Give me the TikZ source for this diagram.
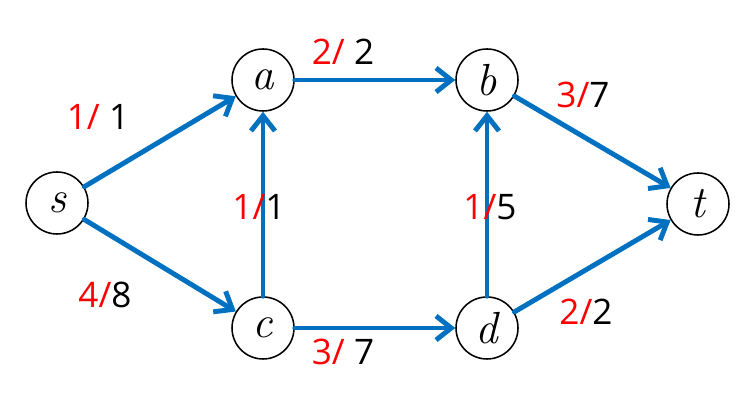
\documentclass[tikz,border=0pt]{standalone}
\usepackage{fontspec}
\setsansfont{Open Sans}
\usetikzlibrary{arrows.meta}
\definecolor{flowblue}{RGB}{0,112,192}
\begin{document}
\begin{tikzpicture}[line join=round, line cap=round,>={Straight Barb[length=3.8mm,width=6mm]},thick,scale=1]
	\tikzset{vertex/.style={circle,draw,line width=1.1pt,minimum size=1.55cm,inner sep=0pt,font=\fontsize{32}{34}\selectfont\itshape},
		flow/.style={font=\sffamily\fontsize{25}{28}\selectfont,inner sep=0pt},
		arc/.style={->,draw=flowblue,line width=3.5pt}}
	\useasboundingbox (0,0) rectangle (18.85,10);
	\node[vertex] (s) at (1.425,4.925) {s};
	\node[vertex] (a) at (6.575,8) {a};
	\node[vertex] (b) at (12.175,8) {b};
	\node[vertex] (t) at (17.45,4.9) {t};
	\node[vertex] (c) at (6.575,1.8) {c};
	\node[vertex] (d) at (12.175,1.8) {d};
	\draw[arc] (s)--(a);
	\draw[arc] (a)--(b);
	\draw[arc] (b)--(t);
	\draw[arc] (c)--(a);
	\draw[arc] (d)--(b);
	\draw[arc] (s)--(c);
	\draw[arc] (c)--(d);
	\draw[arc] (d)--(t);
	\node[flow] (fsa) at (2.45,7.075) {\textcolor{red}{1/} 1};
	\node[flow] (fab) at (8.575,8.7) {\textcolor{red}{2/} 2};
	\node[flow] (fbt) at (14.575,7.625) {\textcolor{red}{3/}7};
	\node[flow] (fca) at (6.475,4.825) {\textcolor{red}{1/}1};
	\node[flow] (fdb) at (12.25,4.825) {\textcolor{red}{1/}5};
	\node[flow] (fsc) at (2.625,2.625) {\textcolor{red}{4/}8};
	\node[flow] (fcd) at (8.575,1.2) {\textcolor{red}{3/} 7};
	\node[flow] (fdt) at (14.65,2.2) {\textcolor{red}{2/}2};
\end{tikzpicture}
\end{document}
